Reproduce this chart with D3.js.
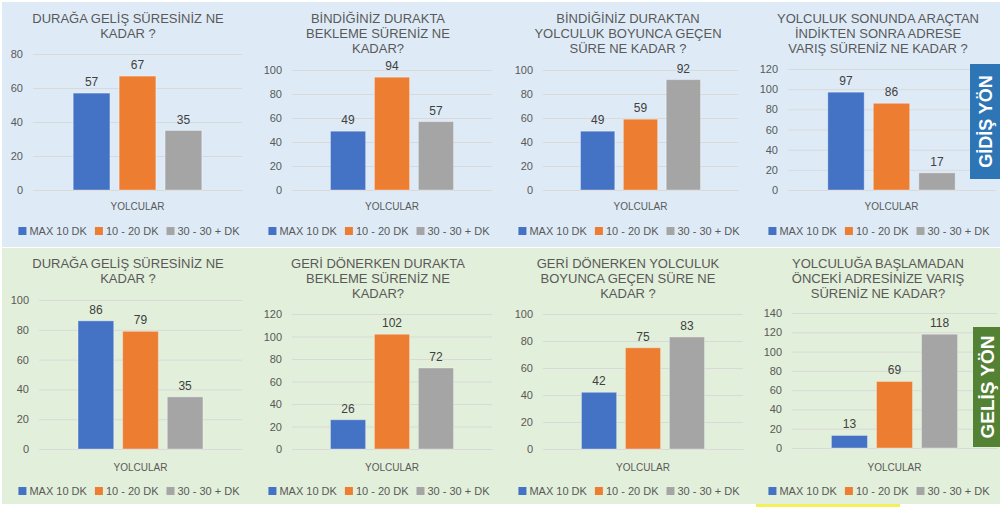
<!DOCTYPE html>
<html>
<head>
<meta charset="utf-8">
<script src="https://cdn.jsdelivr.net/npm/d3@7"></script>
<style>
  body { margin: 0; background: #fff; }
  svg { display: block; }
  text { font-family: "Liberation Sans", Arial, sans-serif; }
</style>
</head>
<body>
<div class="box"></div>
<script>
// DATA
const seriesNames = ['MAX 10 DK', '10 - 20 DK', '30 - 30 + DK'];
const category = 'YOLCULAR';
const titles = [
  ['DURAĞA GELİŞ SÜRESİNİZ NE', 'KADAR ?'],
  ['BİNDİĞİNİZ DURAKTA', 'BEKLEME SÜRENİZ NE', 'KADAR?'],
  ['BİNDİĞİNİZ DURAKTAN', 'YOLCULUK BOYUNCA GEÇEN', 'SÜRE NE KADAR ?'],
  ['YOLCULUK SONUNDA ARAÇTAN', 'İNDİKTEN SONRA ADRESE', 'VARIŞ SÜRENİZ NE KADAR ?'],
  ['DURAĞA GELİŞ SÜRESİNİZ NE', 'KADAR ?'],
  ['GERİ DÖNERKEN DURAKTA', 'BEKLEME SÜRENİZ NE', 'KADAR?'],
  ['GERİ DÖNERKEN YOLCULUK', 'BOYUNCA GEÇEN SÜRE NE', 'KADAR ?'],
  ['YOLCULUĞA BAŞLAMADAN', 'ÖNCEKİ ADRESİNİZE VARIŞ', 'SÜRENİZ NE KADAR?']
];
const maxTen     = [57, 49, 49, 97, 86, 26, 42, 13];
const tenTwenty  = [67, 94, 59, 86, 79, 102, 75, 69];
const thirtyPlus = [35, 57, 92, 17, 35, 72, 83, 118];
const axisMax    = [80, 100, 100, 120, 100, 120, 100, 140];
const tickStep = 20;
const rowLabels = ['GİDİŞ YÖN', 'GELİŞ YÖN'];

// SETUP
const colors = ['#4472c4', '#ed7d31', '#a5a5a5'];
const textGray = '#595959';

// plot area of each small chart (x relative to its column, y absolute)
const plots = [
  {l: 33, r: 242, t: 54,  b: 190},
  {l: 42, r: 242, t: 70,  b: 190},
  {l: 43, r: 238, t: 70,  b: 190},
  {l: 38, r: 245, t: 69,  b: 190},
  {l: 39, r: 242, t: 300, b: 449},
  {l: 42, r: 242, t: 314, b: 449},
  {l: 43, r: 243, t: 314, b: 449},
  {l: 42, r: 247, t: 313, b: 448}
];
const rows = [
  {titleY: 18,  catY: 206, legendY: 231},
  {titleY: 263, catY: 467, legendY: 491}
];

const svg = d3.select('.box')
              .append('svg')
              .attr('width', 1000)
              .attr('height', 507)
              .style('background', '#fff');

// row backgrounds
svg.append('rect').attr('x', 2).attr('y', 2).attr('width', 998).attr('height', 245).attr('fill', '#deebf7');
svg.append('rect').attr('x', 2).attr('y', 248).attr('width', 998).attr('height', 256).attr('fill', '#e2efda');
svg.append('rect').attr('x', 756).attr('y', 504).attr('width', 144).attr('height', 3).attr('fill', '#f4f05a');

plots.forEach((p, i) => {
  const col = i % 4;
  const row = Math.floor(i / 4);
  const r = rows[row];
  const ox = col * 250;
  const cx = 128;
  const vals = [maxTen[i], tenTwenty[i], thirtyPlus[i]];

  const g = svg.append('g').attr('transform', `translate(${ox}, 0)`);

  // title
  const title = g.append('text')
                 .attr('text-anchor', 'middle')
                 .attr('fill', textGray)
                 .style('font-size', '13px');
  title.selectAll('tspan')
       .data(titles[i])
       .join('tspan')
       .attr('x', cx)
       .attr('y', (d, k) => r.titleY + k * 15 + 4.5)
       .text(d => d);

  // scales
  const y = d3.scaleLinear()
              .domain([0, axisMax[i]])
              .range([p.b, p.t]);
  const xCat = d3.scaleBand()
                 .domain([category])
                 .range([p.l, p.r]);
  const x = d3.scaleBand()
              .domain(seriesNames)
              .range([p.l, p.r])
              .paddingInner(0.2)
              .paddingOuter(0.875);

  // y axis + gridlines
  const axeY = d3.axisLeft(y)
                 .tickValues(d3.range(0, axisMax[i] + 1, tickStep))
                 .tickSize(-(p.r - p.l))
                 .tickPadding(10);
  g.append('g')
   .attr('transform', `translate(${p.l}, 0)`)
   .call(axeY)
   .call(a => a.select('.domain').remove())
   .call(a => a.selectAll('line').attr('stroke', '#d9d9d9'))
   .call(a => a.selectAll('text').attr('fill', textGray).style('font-size', '11px')
                .style('font-family', '"Liberation Sans", Arial, sans-serif'));

  // x axis
  const axeX = d3.axisBottom(xCat)
                 .tickSize(0)
                 .tickPadding(r.catY - p.b - 3.6);
  g.append('g')
   .attr('transform', `translate(0, ${p.b})`)
   .call(axeX)
   .call(a => a.select('.domain').attr('stroke', '#d9d9d9'))
   .call(a => a.selectAll('text').attr('fill', textGray).style('font-size', '10px')
                .style('font-family', '"Liberation Sans", Arial, sans-serif'));

  // bars
  g.selectAll('rect.bar')
   .data(vals)
   .join('rect')
   .attr('class', 'bar')
   .attr('x', (d, k) => x(seriesNames[k]))
   .attr('y', d => y(d))
   .attr('width', x.bandwidth())
   .attr('height', d => p.b - y(d))
   .attr('fill', (d, k) => colors[k])
   .attr('stroke', 'rgba(255,255,255,0.35)')
   .attr('stroke-width', 1);

  // value labels
  g.selectAll('text.val')
   .data(vals)
   .join('text')
   .attr('class', 'val')
   .attr('x', (d, k) => x(seriesNames[k]) + x.bandwidth() / 2)
   .attr('y', d => y(d) - 7)
   .attr('text-anchor', 'middle')
   .attr('fill', '#404040')
   .style('font-size', '12px')
   .text(d => d);

  // legend
  const legend = g.append('g');
  const items = legend.selectAll('g')
                      .data(seriesNames)
                      .join('g');
  items.append('rect')
       .attr('width', 8)
       .attr('height', 8)
       .attr('y', r.legendY - 4)
       .attr('fill', (d, k) => colors[k]);
  items.append('text')
       .attr('x', 11)
       .attr('y', r.legendY + 4)
       .attr('fill', textGray)
       .style('font-size', '11px')
       .text(d => d);
  let pos = 0;
  items.each(function() {
    const w = 11 + d3.select(this).select('text').node().getComputedTextLength();
    d3.select(this).attr('transform', `translate(${pos}, 0)`);
    pos += w + 8;
  });
  const total = pos - 8;
  legend.attr('transform', `translate(${cx + 1 - total / 2}, 0)`);
});

// side labels
const sideBoxes = [
  {x: 970, y: 64,  h: 115, fill: '#2e75b6', size: 18},
  {x: 973, y: 327, h: 120, fill: '#548235', size: 19}
];
sideBoxes.forEach((b, k) => {
  svg.append('rect')
     .attr('x', b.x).attr('y', b.y)
     .attr('width', 1000 - b.x).attr('height', b.h)
     .attr('fill', b.fill);
  const mx = b.x + (1000 - b.x) / 2 + 1;
  const my = b.y + b.h / 2;
  svg.append('text')
     .attr('transform', `translate(${mx + b.size * 0.36}, ${my}) rotate(-90)`)
     .attr('text-anchor', 'middle')
     .attr('fill', '#fff')
     .style('font-size', b.size + 'px')
     .style('font-weight', 'bold')
     .text(rowLabels[k]);
});
</script>
</body>
</html>
